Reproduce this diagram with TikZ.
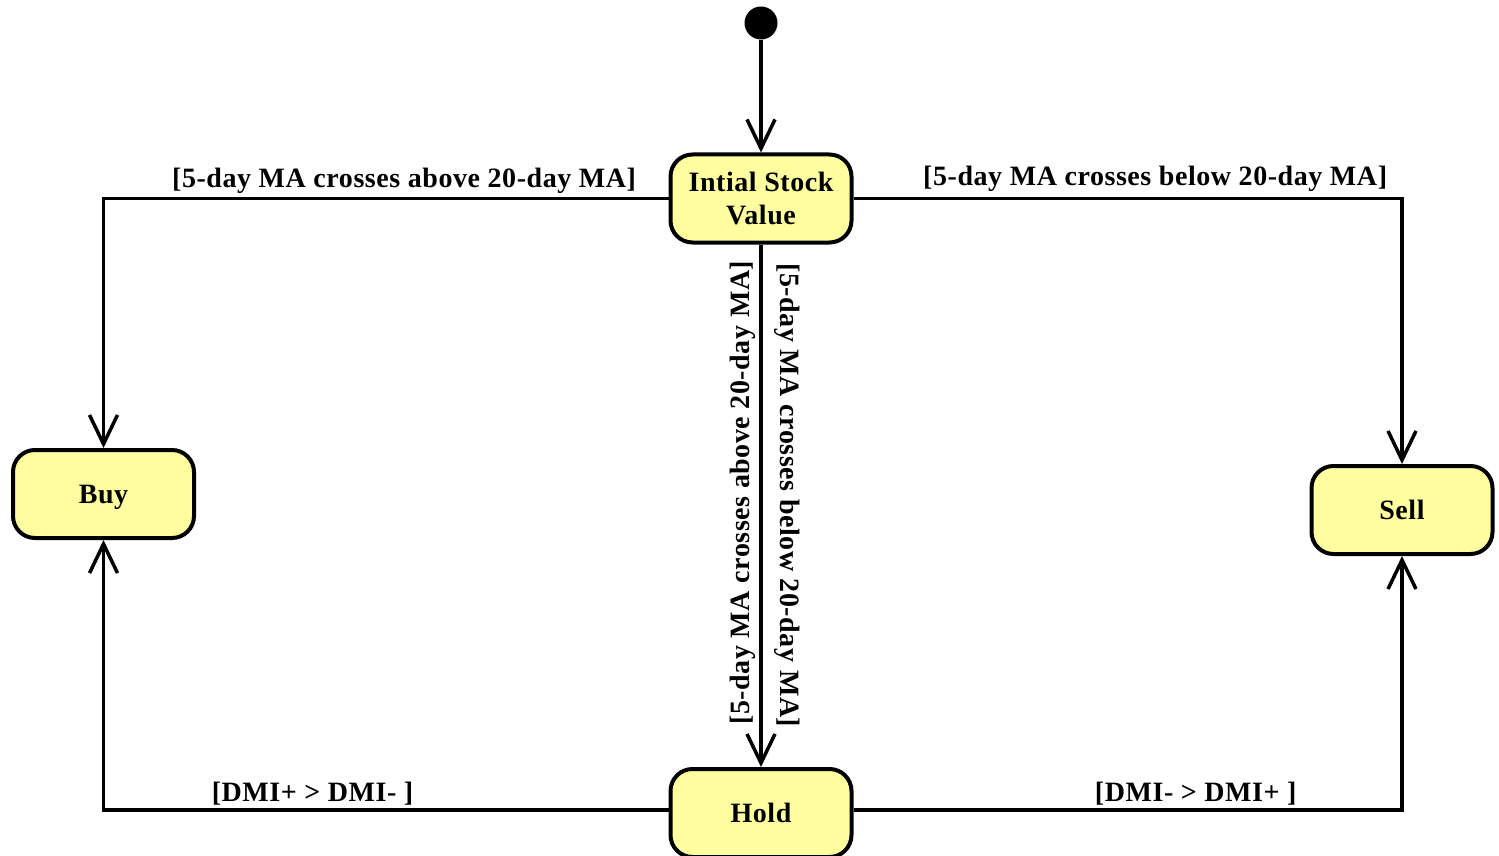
\documentclass[tikz,border=0pt]{standalone}
\usepackage{fontspec}
\setmainfont{Liberation Serif}[LetterSpace=2]
\usetikzlibrary{arrows.meta}
\definecolor{statefill}{RGB}{255,255,160}
\begin{document}
\begin{tikzpicture}[x=1pt,y=-1pt,
  every node/.style={font=\fontsize{28}{33}\selectfont\bfseries},
  state/.style={draw, line width=4pt, fill=statefill, rounded corners=22pt,
    minimum width=181pt, minimum height=88pt, align=center, inner sep=2pt, text depth=-2pt},
  trans/.style={line width=3.5pt, -{Straight Barb[length=29pt,width=28pt,line width=3.5pt]}},
  guard/.style={inner sep=3pt}
]
\useasboundingbox (0,0) rectangle (1499,856);

\node[circle, fill=black, minimum size=33pt, inner sep=0pt] (start) at (761,23) {};
\node[state] (init) at (761,198.5) {Intial Stock\\Value};
\node[state] (buy)  at (103.5,494) {Buy};
\node[state] (sell) at (1402,510) {Sell};
\node[state] (hold) at (761,813) {Hold};

\draw[trans] (start) -- (init.north);

\draw[trans] (init.west) -| node[pos=0.234, guard, above] {[5-day MA crosses above 20-day MA]} (buy.north);
\draw[trans] (init.east) -| node[pos=0.275, guard, above, yshift=2pt] {[5-day MA crosses below 20-day MA]} (sell.north);

\draw[trans] (init.south) -- node[pos=0.475, rotate=90, anchor=south, inner sep=4pt] {[5-day MA crosses above 20-day MA]}
                             node[pos=0.48, rotate=-90, anchor=south, inner sep=12pt] {[5-day MA crosses below 20-day MA]} (hold.north);

\draw[trans] ([yshift=3pt]hold.west) -| node[pos=0.315, guard, above] {[DMI+ > DMI- ]} (buy.south);
\draw[trans] ([yshift=3pt]hold.east) -| node[pos=0.312, guard, above] {[DMI- > DMI+ ]} (sell.south);
\end{tikzpicture}
\end{document}
